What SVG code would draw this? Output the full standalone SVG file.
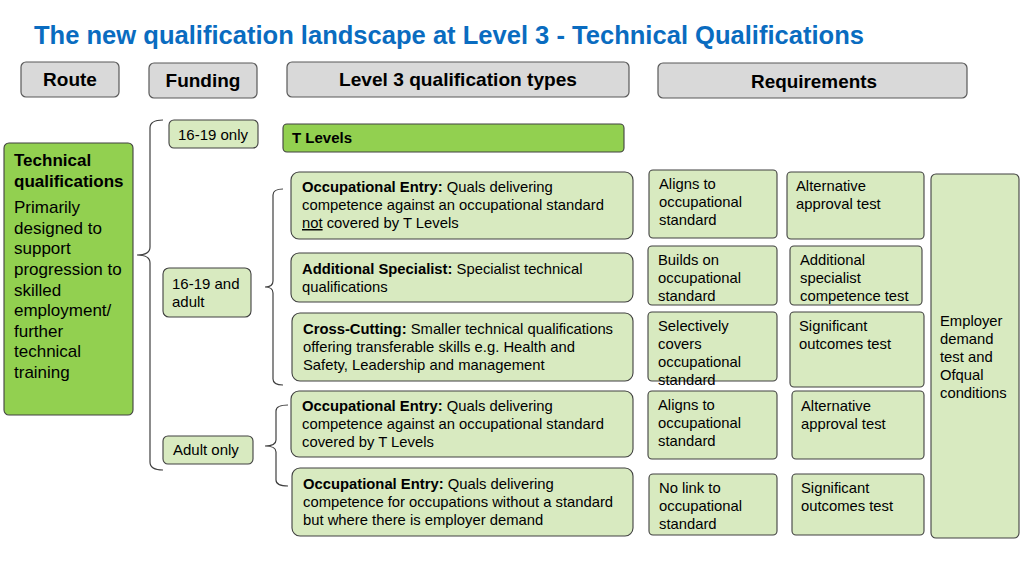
<svg xmlns="http://www.w3.org/2000/svg" width="1024" height="576" viewBox="0 0 1024 576">
<style>
text{font-family:"Liberation Sans",Arial,sans-serif;fill:#000}
.title{font-size:25px;font-weight:bold;fill:#0a6cc0}
.hdr{fill:#d9d9d9;stroke:#595959;stroke-width:1.2}
.hdrt{font-size:19px;font-weight:bold;text-anchor:middle}
.lg{fill:#d8eac0;stroke:#404040;stroke-width:1.1}
.dg{fill:#92d050;stroke:#404040;stroke-width:1.1}
.t{font-size:14.8px}
.f{font-size:15px}
.b{font-weight:bold}
.big{font-size:17px}
.br{fill:none;stroke:#404040;stroke-width:1.2}
</style>
<rect width="1024" height="576" fill="#fff"/>
<text class="title" x="34" y="44" textLength="830" lengthAdjust="spacingAndGlyphs">The new qualification landscape at Level 3 - Technical Qualifications</text>

<g id="hdr-route"><rect class="hdr" x="21" y="62" width="98" height="35" rx="5"/><text class="hdrt" x="70" y="86">Route</text></g>
<g id="hdr-funding"><rect class="hdr" x="149" y="63" width="108" height="35" rx="5"/><text class="hdrt" x="203" y="87">Funding</text></g>
<g id="hdr-types"><rect class="hdr" x="287" y="62" width="342" height="35" rx="5"/><text class="hdrt" x="458" y="86" textLength="238" lengthAdjust="spacingAndGlyphs">Level 3 qualification types</text></g>
<g id="hdr-req"><rect class="hdr" x="658" y="63" width="309" height="35" rx="5"/><text class="hdrt" x="814" y="88" textLength="126" lengthAdjust="spacingAndGlyphs">Requirements</text></g>

<g id="connectors">
<path class="br" d="M163,120 Q150,120 150,128 L150,247 Q150,255 137,255 Q150,255 150,263 L150,462 Q150,470 163,470"/>
<path class="br" d="M283,189 Q273,189 273,195 L273,281 Q273,287 265,287 Q273,287 273,293 L273,379 Q273,385 283,385"/>
<path class="br" d="M288,405 Q276,405 276,411 L276,440 Q276,446 265,446 Q276,446 276,452 L276,480 Q276,486 288,486"/>
</g>

<g id="route-technical">
<rect class="dg" x="4" y="143" width="129" height="272" rx="5"/>
<text class="big b" x="14" y="166">Technical</text>
<text class="big b" x="14" y="187">qualifications</text>
<text class="big"><tspan x="14" y="213">Primarily</tspan><tspan x="14" y="234">designed to</tspan><tspan x="14" y="254">support</tspan><tspan x="14" y="275">progression to</tspan><tspan x="14" y="296">skilled</tspan><tspan x="14" y="316">employment/</tspan><tspan x="14" y="337">further</tspan><tspan x="14" y="357">technical</tspan><tspan x="14" y="378">training</tspan></text>
</g>

<g id="fund-1619"><rect class="lg" x="169" y="120" width="89" height="28" rx="5"/><text class="f" x="178" y="140">16-19 only</text></g>
<g id="fund-1619adult"><rect class="lg" x="163" y="268" width="88" height="49" rx="6"/><text class="f"><tspan x="172" y="289">16-19 and</tspan><tspan x="172" y="307">adult</tspan></text></g>
<g id="fund-adult"><rect class="lg" x="163" y="436" width="90" height="28" rx="5"/><text class="f" x="173" y="455">Adult only</text></g>

<g id="type-tlevels"><rect class="dg" x="283" y="124" width="341" height="28" rx="4"/><text class="b" x="292" y="143" font-size="14.5" textLength="60" lengthAdjust="spacingAndGlyphs">T Levels</text></g>
<g id="type-occ1"><rect class="lg" x="291" y="172" width="342" height="67" rx="8"/>
<text class="t"><tspan x="302" y="192"><tspan class="b">Occupational Entry:</tspan> Quals delivering</tspan><tspan x="302" y="210">competence against an occupational standard</tspan><tspan x="302" y="228"><tspan text-decoration="underline">not</tspan> covered by T Levels</tspan></text></g>
<g id="type-addspec"><rect class="lg" x="291" y="253" width="342" height="49" rx="8"/>
<text class="t"><tspan x="302" y="274"><tspan class="b">Additional Specialist:</tspan> Specialist technical</tspan><tspan x="302" y="292">qualifications</tspan></text></g>
<g id="type-cross"><rect class="lg" x="292" y="313" width="341" height="68" rx="8"/>
<text class="t"><tspan x="303" y="334"><tspan class="b">Cross-Cutting:</tspan> Smaller technical qualifications</tspan><tspan x="303" y="352">offering transferable skills e.g. Health and</tspan><tspan x="303" y="370">Safety, Leadership and management</tspan></text></g>
<g id="type-occ2"><rect class="lg" x="291" y="391" width="342" height="66" rx="8"/>
<text class="t"><tspan x="302" y="411"><tspan class="b">Occupational Entry:</tspan> Quals delivering</tspan><tspan x="302" y="429">competence against an occupational standard</tspan><tspan x="302" y="447">covered by T Levels</tspan></text></g>
<g id="type-occ3"><rect class="lg" x="292" y="468" width="341" height="68" rx="8"/>
<text class="t"><tspan x="303" y="489"><tspan class="b">Occupational Entry:</tspan> Quals delivering</tspan><tspan x="303" y="507">competence for occupations without a standard</tspan><tspan x="303" y="525">but where there is employer demand</tspan></text></g>

<g id="req-a1"><rect class="lg" x="649" y="170" width="128" height="68" rx="4"/><text class="t"><tspan x="659" y="189">Aligns to</tspan><tspan x="659" y="207">occupational</tspan><tspan x="659" y="225">standard</tspan></text></g>
<g id="req-a2"><rect class="lg" x="648" y="246" width="129" height="59" rx="4"/><text class="t"><tspan x="658" y="265">Builds on</tspan><tspan x="658" y="283">occupational</tspan><tspan x="658" y="301">standard</tspan></text></g>
<g id="req-a3"><rect class="lg" x="648" y="312" width="129" height="69" rx="4"/><text class="t"><tspan x="658" y="331">Selectively</tspan><tspan x="658" y="349">covers</tspan><tspan x="658" y="367">occupational</tspan><tspan x="658" y="385">standard</tspan></text></g>
<g id="req-a4"><rect class="lg" x="648" y="391" width="129" height="68" rx="4"/><text class="t"><tspan x="658" y="410">Aligns to</tspan><tspan x="658" y="428">occupational</tspan><tspan x="658" y="446">standard</tspan></text></g>
<g id="req-a5"><rect class="lg" x="649" y="474" width="128" height="61" rx="4"/><text class="t"><tspan x="659" y="493">No link to</tspan><tspan x="659" y="511">occupational</tspan><tspan x="659" y="529">standard</tspan></text></g>

<g id="req-b1"><rect class="lg" x="787" y="172" width="137" height="67" rx="4"/><text class="t"><tspan x="796" y="191">Alternative</tspan><tspan x="796" y="209">approval test</tspan></text></g>
<g id="req-b2"><rect class="lg" x="790" y="246" width="132" height="59" rx="4"/><text class="t"><tspan x="800" y="265">Additional</tspan><tspan x="800" y="283">specialist</tspan><tspan x="800" y="301">competence test</tspan></text></g>
<g id="req-b3"><rect class="lg" x="790" y="312" width="134" height="75" rx="4"/><text class="t"><tspan x="799" y="331">Significant</tspan><tspan x="799" y="349">outcomes test</tspan></text></g>
<g id="req-b4"><rect class="lg" x="792" y="391" width="132" height="68" rx="4"/><text class="t"><tspan x="801" y="411">Alternative</tspan><tspan x="801" y="429">approval test</tspan></text></g>
<g id="req-b5"><rect class="lg" x="792" y="474" width="132" height="61" rx="4"/><text class="t"><tspan x="801" y="493">Significant</tspan><tspan x="801" y="511">outcomes test</tspan></text></g>

<g id="req-employer"><rect class="lg" x="931" y="174" width="88" height="364" rx="5"/><text class="t"><tspan x="940" y="326">Employer</tspan><tspan x="940" y="344">demand</tspan><tspan x="940" y="362">test and</tspan><tspan x="940" y="380">Ofqual</tspan><tspan x="940" y="398">conditions</tspan></text></g>
</svg>
